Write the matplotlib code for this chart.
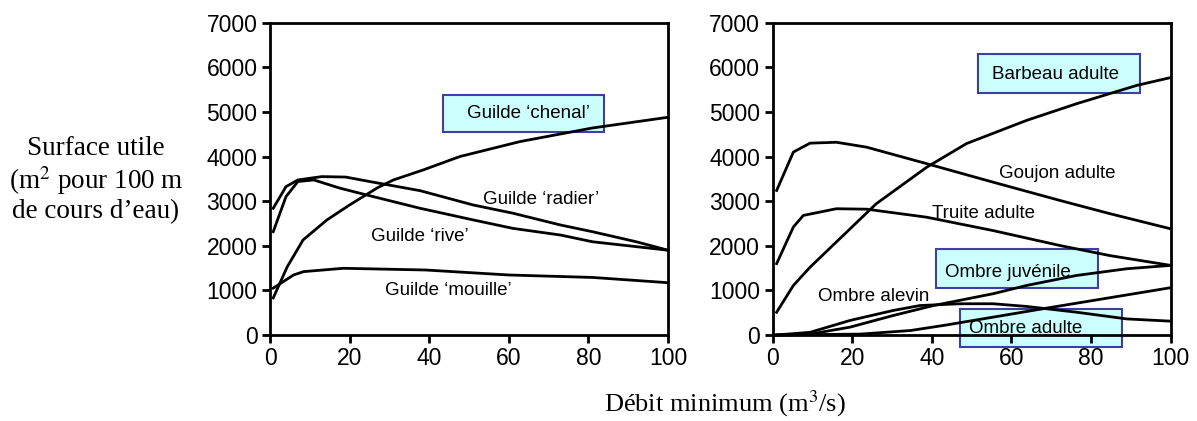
import matplotlib
matplotlib.use("Agg")
import matplotlib.pyplot as plt
from matplotlib.patches import Rectangle

plt.rcParams['font.family'] = ['Liberation Sans', 'DejaVu Sans']

# ---- data: left panel (guilds) ----
chenal_x = [0.8, 4.3, 8.3, 14.3, 20, 27, 31, 38.5, 47.7, 62.8, 81, 100]
chenal_y = [830, 1525, 2130, 2580, 2915, 3300, 3475, 3700, 4000, 4335, 4640, 4880]

mouille_x = [0.8, 5.9, 8.4, 18.4, 39, 60, 81, 100]
mouille_y = [1050, 1345, 1420, 1495, 1457, 1345, 1290, 1172]

radier_x = [0.8, 4, 7, 13, 19, 25, 37.7, 51, 61, 73, 81, 92, 100]
radier_y = [2840, 3325, 3475, 3550, 3540, 3440, 3235, 2915, 2730, 2465, 2315, 2090, 1900]

rive_x = [0.8, 4, 7, 11, 17.6, 26, 37.7, 51, 61, 73, 81, 92, 100]
rive_y = [2315, 3100, 3440, 3475, 3290, 3100, 2840, 2580, 2390, 2240, 2090, 1980, 1900]

# ---- data: right panel (species) ----
barbeau_x = [1, 5.2, 9.4, 17.7, 26, 38.7, 48.7, 63.8, 76.4, 91.5, 100]
barbeau_y = [510, 1110, 1520, 2230, 2940, 3760, 4290, 4810, 5185, 5595, 5770]

goujon_x = [1, 5.2, 9.4, 16, 23.6, 38.7, 55.4, 72.2, 84.7, 100]
goujon_y = [3240, 4100, 4300, 4320, 4210, 3840, 3425, 3015, 2720, 2380]

truite_x = [1, 5.2, 7.7, 16, 23.6, 38.7, 55.4, 72.2, 84.7, 100]
truite_y = [1600, 2420, 2680, 2830, 2820, 2640, 2340, 2005, 1780, 1560]

juvenile_x = [1, 9.4, 19.4, 30.3, 40.4, 55.4, 63.8, 76.4, 89, 100]
juvenile_y = [0, 20, 175, 437, 660, 925, 1110, 1335, 1485, 1560]

alevin_x = [1, 9.4, 19.4, 30.3, 37, 47, 55.4, 63.8, 76.4, 89, 100]
alevin_y = [0, 60, 325, 550, 660, 700, 700, 640, 510, 360, 310]

adulte_x = [1, 22, 34.6, 43, 55.4, 68, 80.6, 100]
adulte_y = [0, 20, 100, 215, 400, 590, 775, 1060]

x_ticks = [0, 20, 40, 60, 80, 100]
y_ticks = [0, 1000, 2000, 3000, 4000, 5000, 6000, 7000]

fig = plt.figure(figsize=(11.97, 4.21), dpi=100)
ax1 = fig.add_axes([0.2256, 0.2043, 0.3325, 0.7418])
ax2 = fig.add_axes([0.6455, 0.2043, 0.3325, 0.7418])

box_face = '#CCFFFF'
box_edge = '#3F3FA0'


def style_axis(ax):
    ax.set_xlim(0, 100)
    ax.set_ylim(0, 7000)
    ax.set_xticks(x_ticks)
    ax.set_yticks(y_ticks)
    ax.set_facecolor('none')
    for s in ax.spines.values():
        s.set_linewidth(2)
        s.set_zorder(5)
    ax.tick_params(direction='out', length=6, width=2, labelsize=16.5, pad=3)


def boxed(ax, x0, x1, y0, y1):
    ax.add_patch(Rectangle((x0, y0), x1 - x0, y1 - y0, facecolor=box_face,
                           edgecolor=box_edge, linewidth=1.5, clip_on=False, zorder=1))


lw = 2
# Left panel
for xs, ys in [(chenal_x, chenal_y), (mouille_x, mouille_y),
               (radier_x, radier_y), (rive_x, rive_y)]:
    ax1.plot(xs, ys, color='black', lw=lw, zorder=3, clip_on=False)
boxed(ax1, 43.5, 84, 4540, 5390)
ax1.text(65, 4955, 'Guilde \u2018chenal\u2019', ha='center', va='center', fontsize=13.5, zorder=4)
ax1.text(68, 3030, 'Guilde \u2018radier\u2019', ha='center', va='center', fontsize=13.5, zorder=4)
ax1.text(37.7, 2200, 'Guilde \u2018rive\u2019', ha='center', va='center', fontsize=13.5, zorder=4)
ax1.text(44.7, 995, 'Guilde \u2018mouille\u2019', ha='center', va='center', fontsize=13.5, zorder=4)
style_axis(ax1)

# Right panel
for xs, ys in [(barbeau_x, barbeau_y), (goujon_x, goujon_y), (truite_x, truite_y),
               (juvenile_x, juvenile_y), (alevin_x, alevin_y), (adulte_x, adulte_y)]:
    ax2.plot(xs, ys, color='black', lw=lw, zorder=3, clip_on=False)
boxed(ax2, 51.7, 92.3, 5425, 6300)
boxed(ax2, 41, 81.8, 1060, 1930)
boxed(ax2, 47, 87.7, -270, 590)
ax2.text(71, 5830, 'Barbeau adulte', ha='center', va='center', fontsize=13.5, zorder=4)
ax2.text(71.4, 3615, 'Goujon adulte', ha='center', va='center', fontsize=13.5, zorder=4)
ax2.text(53, 2720, 'Truite adulte', ha='center', va='center', fontsize=13.5, zorder=4)
ax2.text(59, 1400, 'Ombre juv\u00e9nile', ha='center', va='center', fontsize=13.5, zorder=2)
ax2.text(25.5, 865, 'Ombre alevin', ha='center', va='center', fontsize=13.5, zorder=4)
ax2.text(63.6, 140, 'Ombre adulte', ha='center', va='center', fontsize=13.5, zorder=2)
style_axis(ax2)

# Axis titles (serif)
fig.text(96 / 1197, 1 - 180 / 421, 'Surface utile\n(m$^2$ pour 100 m\nde cours d\u2019eau)',
         ha='center', va='center', fontsize=19.5, family=['Liberation Serif'],
         linespacing=1.1, math_fontfamily='stix')
fig.text(725 / 1197, 1 - 404 / 421, 'D\u00e9bit minimum (m$^3$/s)',
         ha='center', va='center', fontsize=19, family=['Liberation Serif'],
         math_fontfamily='stix')

fig.savefig('out.png', dpi=100)
